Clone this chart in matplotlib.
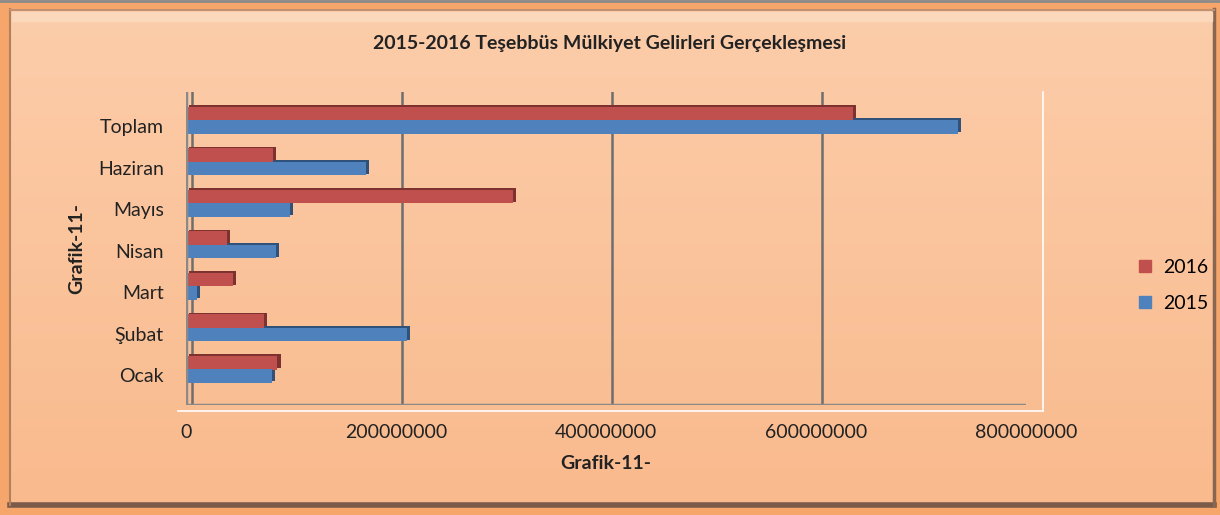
import numpy as np
import matplotlib.pyplot as plt
from matplotlib.patches import Rectangle
from matplotlib.colors import LinearSegmentedColormap

months = ['Ocak', 'Şubat', 'Mart', 'Nisan', 'Mayıs', 'Haziran', 'Toplam']
y2016 = [87e6, 74e6, 45e6, 39e6, 311e6, 83e6, 635e6]
y2015 = [82e6, 210e6, 10e6, 86e6, 99e6, 171e6, 735e6]
xticks = [0, 200000000, 400000000, 600000000, 800000000]

red = '#C0504D'
blue = '#4F81BD'

plt.rcParams['font.family'] = ['Lato', 'DejaVu Sans']

fig = plt.figure(figsize=(12.2, 5.15), dpi=100)

# background panel with orange rim
bg = fig.add_axes([0, 0, 1, 1])
bg.set_xlim(0, 1220)
bg.set_ylim(515, 0)
bg.axis('off')
bg.add_patch(Rectangle((0, 0), 1220, 515, color='#F6A66A', zorder=0))
grad = np.linspace(0, 1, 256)[:, None]
bg.imshow(grad, extent=[10, 1214, 505, 9], aspect='auto',
          cmap=LinearSegmentedColormap.from_list('pe', ['#FCCDAA', '#F9BA8D']),
          zorder=1)
bg.plot([10, 1214], [505, 505], color='#7A5A48', lw=4, zorder=2)
bg.plot([1214, 1214], [9, 505], color='#8A6650', lw=2.5, zorder=2)
bg.plot([10, 10], [9, 505], color='#B08060', lw=1.5, zorder=2)
bg.plot([10, 1214], [10, 10], color='#C09070', lw=1.5, zorder=2)
bg.add_patch(Rectangle((12, 12), 1200, 9, color='#FBD8BC', zorder=2))
bg.plot([0, 1220], [1, 1], color='#8A8A8A', lw=2, zorder=2)

ax = fig.add_axes([186 / 1220, (515 - 405) / 515, 840 / 1220, 313 / 515])
ax.patch.set_alpha(0)
pos = np.arange(len(months))
h = 0.33
# depth shadow
ax.barh(pos + 0.30 + 0.04, y2016, height=h, left=3e6, color='#7E3230',
        zorder=2)
ax.barh(pos - 0.02 + 0.04, y2015, height=h, left=3e6, color='#30527A',
        zorder=2)
ax.barh(pos + 0.30, y2016, height=h, color=red, zorder=3)
ax.barh(pos - 0.02, y2015, height=h, color=blue, zorder=3)

ax.set_xlim(0, 800e6)
ax.set_ylim(-0.72, 6.82)
ax.set_yticks(pos)
ax.set_yticklabels(months, fontsize=14, color='#222222')
ax.set_xticks(xticks)
ax.set_xticklabels([str(v) for v in xticks], fontsize=14, color='#222222')
ax.tick_params(axis='y', length=0, pad=16)
ax.tick_params(axis='x', length=0, pad=14)
for s in ax.spines.values():
    s.set_visible(False)
for v in xticks:
    ax.axvline(v + 6e6, color='#6E6E6E', lw=1.8, zorder=1)
ax.axvline(0, color='#8A8A8A', lw=2.5, zorder=4)
ax.axhline(-0.72, color='#8A8A8A', lw=2.5, zorder=4)
ax.plot([-0.01, 1.02], [-0.02, -0.02], transform=ax.transAxes, color='white',
        lw=1.2, clip_on=False)
ax.plot([1.02, 1.02], [-0.02, 1.0], transform=ax.transAxes, color='white',
        lw=1.2, clip_on=False)

ax.set_xlabel('Grafik-11-', fontsize=14, fontweight='bold', labelpad=10,
              color='#222222')
ax.set_ylabel('Grafik-11-', fontsize=14, fontweight='bold', labelpad=9,
              color='#222222')

fig.text(0.5, 0.915, '2015-2016 Teşebbüs Mülkiyet Gelirleri Gerçekleşmesi',
         ha='center', va='center', fontsize=14, fontweight='bold',
         color='#222222')

handles = [Rectangle((0, 0), 1, 1, color=red), Rectangle((0, 0), 1, 1, color=blue)]
fig.legend(handles, ['2016', '2015'], loc='center', bbox_to_anchor=(0.962, 0.446),
           frameon=False, fontsize=14, handlelength=0.6, handleheight=0.6,
           labelspacing=1.0, handletextpad=0.6)

fig.savefig('out.png', dpi=100)
